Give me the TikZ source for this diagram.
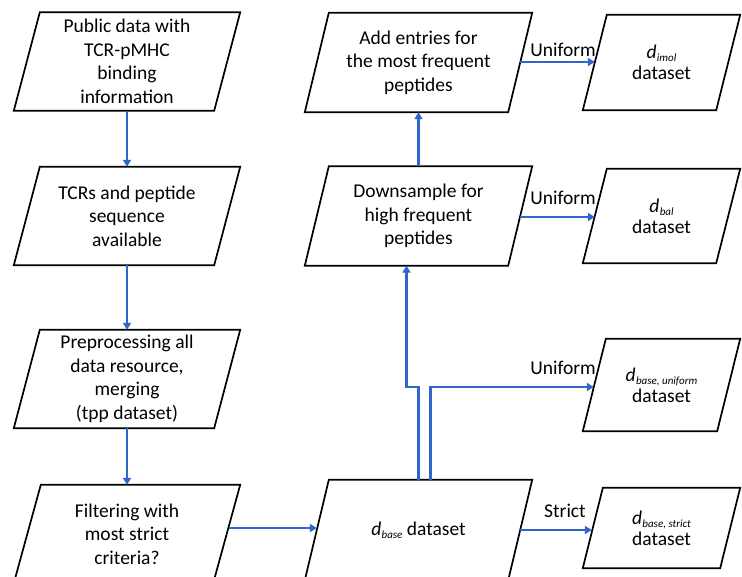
\documentclass[tikz,border=0pt]{standalone}
\usepackage{fontspec}
\setmainfont{Carlito}
\usetikzlibrary{calc,arrows.meta}
\definecolor{flowblue}{RGB}{47,102,204}
% italic d with a small italic subscript
\newcommand\dsub[1]{\textit{d}\kern0.3pt\raisebox{-0.35ex}{\fontsize{11}{11}\selectfont\itshape #1}}
\tikzset{
  x=1pt, y=1pt,
  txt/.style={inner sep=0pt, align=center, font=\fontsize{19.5}{23.5}\selectfont},
  lbox/.style={txt, minimum width=226pt, minimum height=98pt},
  mbox/.style={txt, minimum width=227pt, minimum height=99pt},
  rbox/.style={txt, minimum width=157pt, minimum height=94pt, font=\fontsize{19.5}{21}\selectfont},
  frame/.style={draw=black, line width=1.7pt, line join=miter},
  flow/.style={draw=flowblue, line width=2.7pt, -{Triangle[length=7pt,width=8pt]}},
  lbl/.style={inner sep=0pt, font=\fontsize{19.5}{21}\selectfont, anchor=base},
}
\begin{document}
\begin{tikzpicture}
\clip (0,0) rectangle (742,576);
\fill[white] (0,0) rectangle (742,576);

% left column
\node[lbox] (b1) at (127,514.5) {Public data with\\TCR-pMHC\\binding\\information};
\node[lbox] (b2) at (127,360) {TCRs and peptide\\sequence\\available};
\node[lbox] (b3) at (127,197) {Preprocessing all\\data resource,\\merging\\(tpp dataset)};
\node[lbox] (b4) at (127,42) {Filtering with\\most strict\\criteria?};

% middle column
\node[mbox] (add) at (418.5,513.5) {Add entries for\\the most frequent\\peptides};
\node[mbox] (down) at (418.5,360) {Downsample for\\high frequent\\peptides};
\node[mbox, minimum height=100pt] (base) at (418.5,46) {\dsub{base} dataset};

% right column
\node[rbox, minimum height=95pt] (imol) at (661.5,513.5) {\dsub{imol}\\dataset};
\node[rbox] (bal) at (661.5,360) {\dsub{bal}\\dataset};
\node[rbox, minimum height=92pt] (uni) at (661.5,191) {\dsub{base, uniform}\\dataset};
\node[rbox, minimum height=80pt] (strict) at (661.5,48) {\dsub{base, strict}\\dataset};

% parallelogram outlines
\foreach \n/\s in {b1/26,b2/26,b3/26,b4/27,add/24,down/24,base/24,imol/24,bal/24,uni/23,strict/20}
  \draw[frame] ($(\n.north west)+(\s,0)$) -- (\n.north east)
    -- ($(\n.south east)+(-\s,0)$) -- (\n.south west) -- cycle;

% connectors
\draw[flow] (b1.south) -- (b2.north);
\draw[flow] (b2.south) -- (b3.north);
\draw[flow] (b3.south) -- (b4.north);
\draw[flow] ($(b4.east)+(-11,6)$) -- ($(base.west)+(12,2)$);

\coordinate (uin) at ($(uni.west)+(11,-2)$);
\draw[flow] ($(base.north)+(12,0)$) |- (uin);
\draw[flow] (base.north) -- (base.north |- uin) -| ($(down.south)+(-12,0)$);
\draw[flow] (down.north) -- (add.south);
\draw[flow] ($(base.east)+(-12,0)$) -- ($(strict.west)+(9,-2)$);
\draw[flow] ($(down.east)+(-12,-1)$) -- ($(bal.west)+(12,-1)$);
\draw[flow] ($(add.east)+(-12,0.5)$) -- ($(imol.west)+(12,0.5)$);

% branch labels
\node[lbl] (limol) at (563,519) {Uniform};
\node[lbl] (lbal) at (563,371) {Uniform};
\node[lbl] (luni) at (563,201) {Uniform};
\node[lbl] (lstrict) at (565,58) {Strict};
\end{tikzpicture}
\end{document}
